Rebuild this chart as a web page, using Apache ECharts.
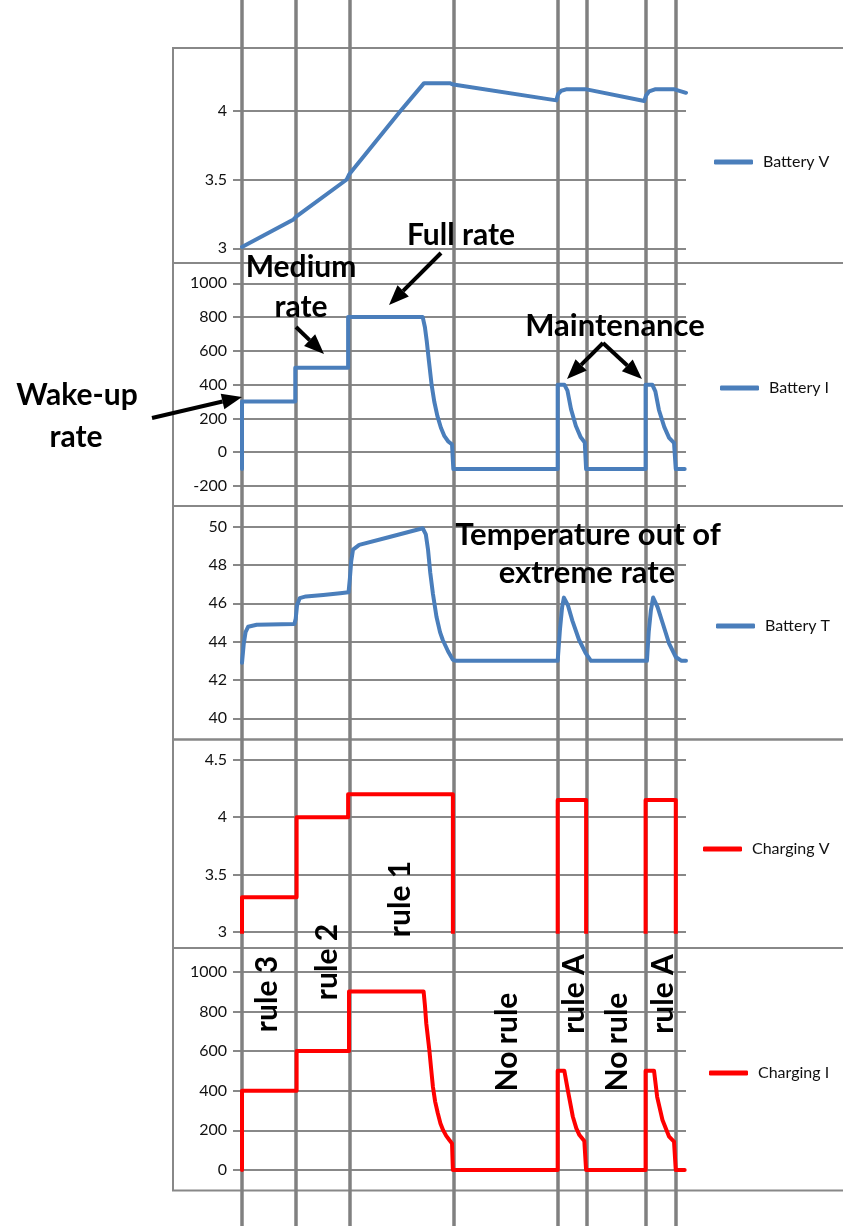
<!DOCTYPE html>
<html>
<head>
<meta charset="utf-8">
<script src="https://cdn.jsdelivr.net/npm/echarts@6/dist/echarts.min.js"></script>
<style>
  html, body { margin: 0; padding: 0; background: #fff; }
  #chart { width: 843px; height: 1226px; }
</style>
</head>
<body>
<div id="chart"></div>
<script>
// ---- Data: time is on a 0..100 scale, values in each panel's own unit ----
const ruleTimes = [0, 12.2, 24.2, 47.6, 71.1, 77.6, 90.9, 97.7];

const batteryV = [[0,3.01],[11.6,3.21],[12.2,3.23],[23.6,3.50],[24.2,3.54],[35.5,3.99],[41.0,4.20],[46.8,4.20],[47.6,4.19],
  [70.8,4.075],[71.2,4.12],[71.9,4.145],[73,4.155],[77.6,4.155],[90.6,4.07],[91.0,4.11],[91.7,4.14],[93,4.155],[97.4,4.155],[100,4.13]];

const batteryI = [[0,-100],[0,300],[12.0,300],[12.0,500],[23.9,500],[23.9,800],[40.7,800],[41.2,740],[41.6,660],[42.1,540],
  [42.7,400],[43.3,300],[44.0,215],[44.8,145],[45.6,95],[46.5,62],[47.3,47],[47.6,40],[47.6,-100],[71.1,-100],[71.1,400],
  [72.6,400],[73.3,365],[74.1,255],[75.2,155],[76.3,88],[77.2,58],[77.5,48],[77.5,-100],[90.9,-100],[90.9,400],[92.4,400],
  [93.1,360],[93.9,250],[95.1,150],[96.2,85],[97.3,55],[97.7,45],[97.7,-100],[99.7,-100]];

const batteryT = [[0,42.9],[0.4,43.9],[0.8,44.5],[1.4,44.78],[3.3,44.88],[11.8,44.92],[12.1,45.2],[12.4,45.9],[13.0,46.27],
  [14.4,46.36],[18.3,46.44],[22.1,46.53],[24.0,46.58],[24.3,47.3],[24.6,48.2],[25.0,48.8],[26.4,49.05],[33,49.45],[40.7,49.92],
  [41.1,50.0],[41.4,49.6],[41.9,48.8],[42.4,47.6],[43.0,46.5],[43.8,45.3],[44.6,44.5],[45.2,44.1],[46.4,43.5],[47.5,43.05],
  [48.2,43.0],[71.1,43.0],[71.6,44.6],[72.1,45.8],[72.5,46.3],[72.9,46.35],[73.4,45.9],[74.4,45.1],[75.9,44.1],[77.4,43.4],
  [78.6,43.0],[91.2,43.0],[91.6,44.5],[92.1,45.65],[92.6,46.3],[93.0,46.35],[93.6,45.8],[94.7,45.0],[96.2,43.9],[97.7,43.2],
  [99.0,43.0],[100,43.0]];

const chargingV = [[0,0],[0,3.3],[12.3,3.3],[12.3,4.0],[23.9,4.0],[23.9,4.2],[47.5,4.2],[47.5,0],[71.1,0],[71.1,4.15],
  [77.5,4.15],[77.5,0],[90.9,0],[90.9,4.15],[97.7,4.15],[97.7,0],[100,0]];

const chargingI = [[0,0],[0,400],[12.3,400],[12.3,600],[24.1,600],[24.1,900],[40.9,900],[41.2,830],[41.5,740],[42.2,604],
  [42.6,510],[43.0,420],[43.5,345],[44.1,286],[44.7,235],[45.3,201],[46.0,172],[46.7,151],[47.3,134],[47.5,130],[47.5,0],
  [71.1,0],[71.1,500],[72.6,500],[73.4,400],[74.5,270],[75.3,210],[76.0,176],[77.1,146],[77.5,140],[77.5,0],[90.9,0],
  [90.9,500],[92.8,500],[93.5,369],[94.7,252],[96.2,168],[97.3,143],[97.7,138],[97.7,0],[99.7,0]];

const panelNames = ['Battery V', 'Battery I', 'Battery T', 'Charging V', 'Charging I'];
const panelData = [batteryV, batteryI, batteryT, chargingV, chargingI];
const yRanges = [[3, 4.3, 0.5], [-200, 1000, 200], [40, 50, 2], [3, 4.5, 0.5], [0, 1000, 200]];
const yTickLabels = [[3, 3.5, 4], null, null, null, null];

// ---- Layout ----
const W = 843, H = 1226;
const BLUE = '#4a7ebb', RED = '#ff0000', GRID = '#888888', RULE = '#808080';
const FONT = 'Lato, "Open Sans", sans-serif';
const plotLeft = 242, plotRight = 686;
const plotBoxes = [[69.4, 248.3], [283.3, 486], [526.7, 718.3], [760, 931.7], [971.7, 1170]];
const frameYs = [48, 263, 506, 739.5, 948, 1190.5];
const panelColors = [BLUE, BLUE, BLUE, RED, RED];
const legendPos = [[709, 159], [715, 385], [711, 623], [698, 846], [704, 1070]];

const grids = [], xAxes = [], yAxes = [], series = [], legends = [];

panelNames.forEach((name, i) => {
  const [t, b] = plotBoxes[i];
  const [mn, mx, step] = yRanges[i];
  grids.push({ left: plotLeft, right: W - plotRight, top: t, height: b - t });
  xAxes.push({ gridIndex: i, type: 'value', min: 0, max: 100, show: false });
  const yAxis = {
    gridIndex: i, type: 'value', min: mn, max: mx, interval: step,
    axisLine: { show: false },
    axisTick: { show: true, inside: false, length: 9, lineStyle: { color: GRID, width: 2 } },
    axisLabel: { margin: 15, fontFamily: FONT, fontSize: 16, color: '#111', formatter: v => String(v) },
    splitLine: { show: true, lineStyle: { color: GRID, width: 2 } }
  };
  if (yTickLabels[i]) {
    // only the listed values get a tick, label and grid line
    yAxis.axisLabel.customValues = yTickLabels[i];
    yAxis.axisTick.customValues = yTickLabels[i];
  }
  yAxes.push(yAxis);
  series.push({
    name: name, type: 'line', xAxisIndex: i, yAxisIndex: i, data: panelData[i],
    symbol: 'none', z: 5, clip: true, animation: false,
    color: panelColors[i],
    lineStyle: { color: panelColors[i], width: 4, cap: 'round', join: 'round' }
  });
  legends.push({
    data: [name], left: legendPos[i][0], top: legendPos[i][1] - 10,
    icon: 'roundRect', itemWidth: 39, itemHeight: 5, selectedMode: false,
    textStyle: { fontFamily: FONT, fontSize: 16, color: '#111', padding: [0, 0, 0, 5] }
  });
});

// Full-height grid carrying the vertical phase boundaries
grids.push({ left: plotLeft, right: W - plotRight, top: 0, bottom: 0 });
xAxes.push({ gridIndex: 5, type: 'value', min: 0, max: 100, show: false });
yAxes.push({ gridIndex: 5, type: 'value', min: 0, max: 1, show: false });
series.push({
  type: 'line', xAxisIndex: 5, yAxisIndex: 5, data: [], z: 3, animation: false,
  markLine: {
    silent: true, symbol: 'none', animation: false,
    label: { show: false },
    lineStyle: { color: RULE, width: 3.5, type: 'solid' },
    data: ruleTimes.map(t => ({ xAxis: t }))
  }
});

// ---- Annotations ----
const graphics = [];
for (let i = 0; i < frameYs.length - 1; i++) {
  graphics.push({
    type: 'rect', z: 0, silent: true,
    shape: { x: 173, y: frameYs[i], width: W + 5 - 173, height: frameYs[i + 1] - frameYs[i] },
    style: { fill: 'none', stroke: GRID, lineWidth: 2 }
  });
}
const boldText = (text, x, y, rot, size) => ({
  type: 'text', z: 100, silent: true, x: x, y: y, rotation: rot || 0,
  style: { text: text, fontFamily: FONT, fontWeight: 'bold', fontSize: size || 30, fill: '#000',
           align: 'center', verticalAlign: 'middle' }
});
[['Full rate', 461, 235], ['Medium', 301, 267], ['rate', 301, 307], ['Wake-up', 77, 395], ['rate', 76, 437],
 ['Maintenance', 615, 326, 31], ['Temperature out of', 588, 535, 31], ['extreme rate', 587, 573, 31]]
  .forEach(a => graphics.push(boldText(a[0], a[1], a[2], 0, a[3])));
[['rule 3', 267, 994], ['rule 2', 327, 962], ['rule 1', 400, 899], ['No rule', 507, 1042],
 ['rule A', 574, 994], ['No rule', 617, 1042], ['rule A', 663, 994]]
  .forEach(a => graphics.push(boldText(a[0], a[1], a[2], Math.PI / 2)));

function arrow(x1, y1, x2, y2) {
  const ang = Math.atan2(y2 - y1, x2 - x1);
  const L = 20, Wd = 8;
  const bx = x2 - L * Math.cos(ang), by = y2 - L * Math.sin(ang);
  const px = -Math.sin(ang) * Wd, py = Math.cos(ang) * Wd;
  graphics.push({ type: 'line', z: 100, silent: true, shape: { x1: x1, y1: y1, x2: bx, y2: by },
    style: { stroke: '#000', lineWidth: 4 } });
  graphics.push({ type: 'polygon', z: 100, silent: true,
    shape: { points: [[x2, y2], [bx + px, by + py], [bx - px, by - py]] }, style: { fill: '#000' } });
}
arrow(152, 418, 242, 397);
arrow(296, 327, 324, 354);
arrow(441, 253, 389, 305);
arrow(603, 343, 567, 379);
arrow(603, 343, 642, 379);

const chart = echarts.init(document.getElementById('chart'), null, { renderer: 'canvas', width: W, height: H });
chart.setOption({
  animation: false,
  backgroundColor: '#fff',
  grid: grids, xAxis: xAxes, yAxis: yAxes, series: series, legend: legends,
  graphic: graphics
});
</script>
</body>
</html>
